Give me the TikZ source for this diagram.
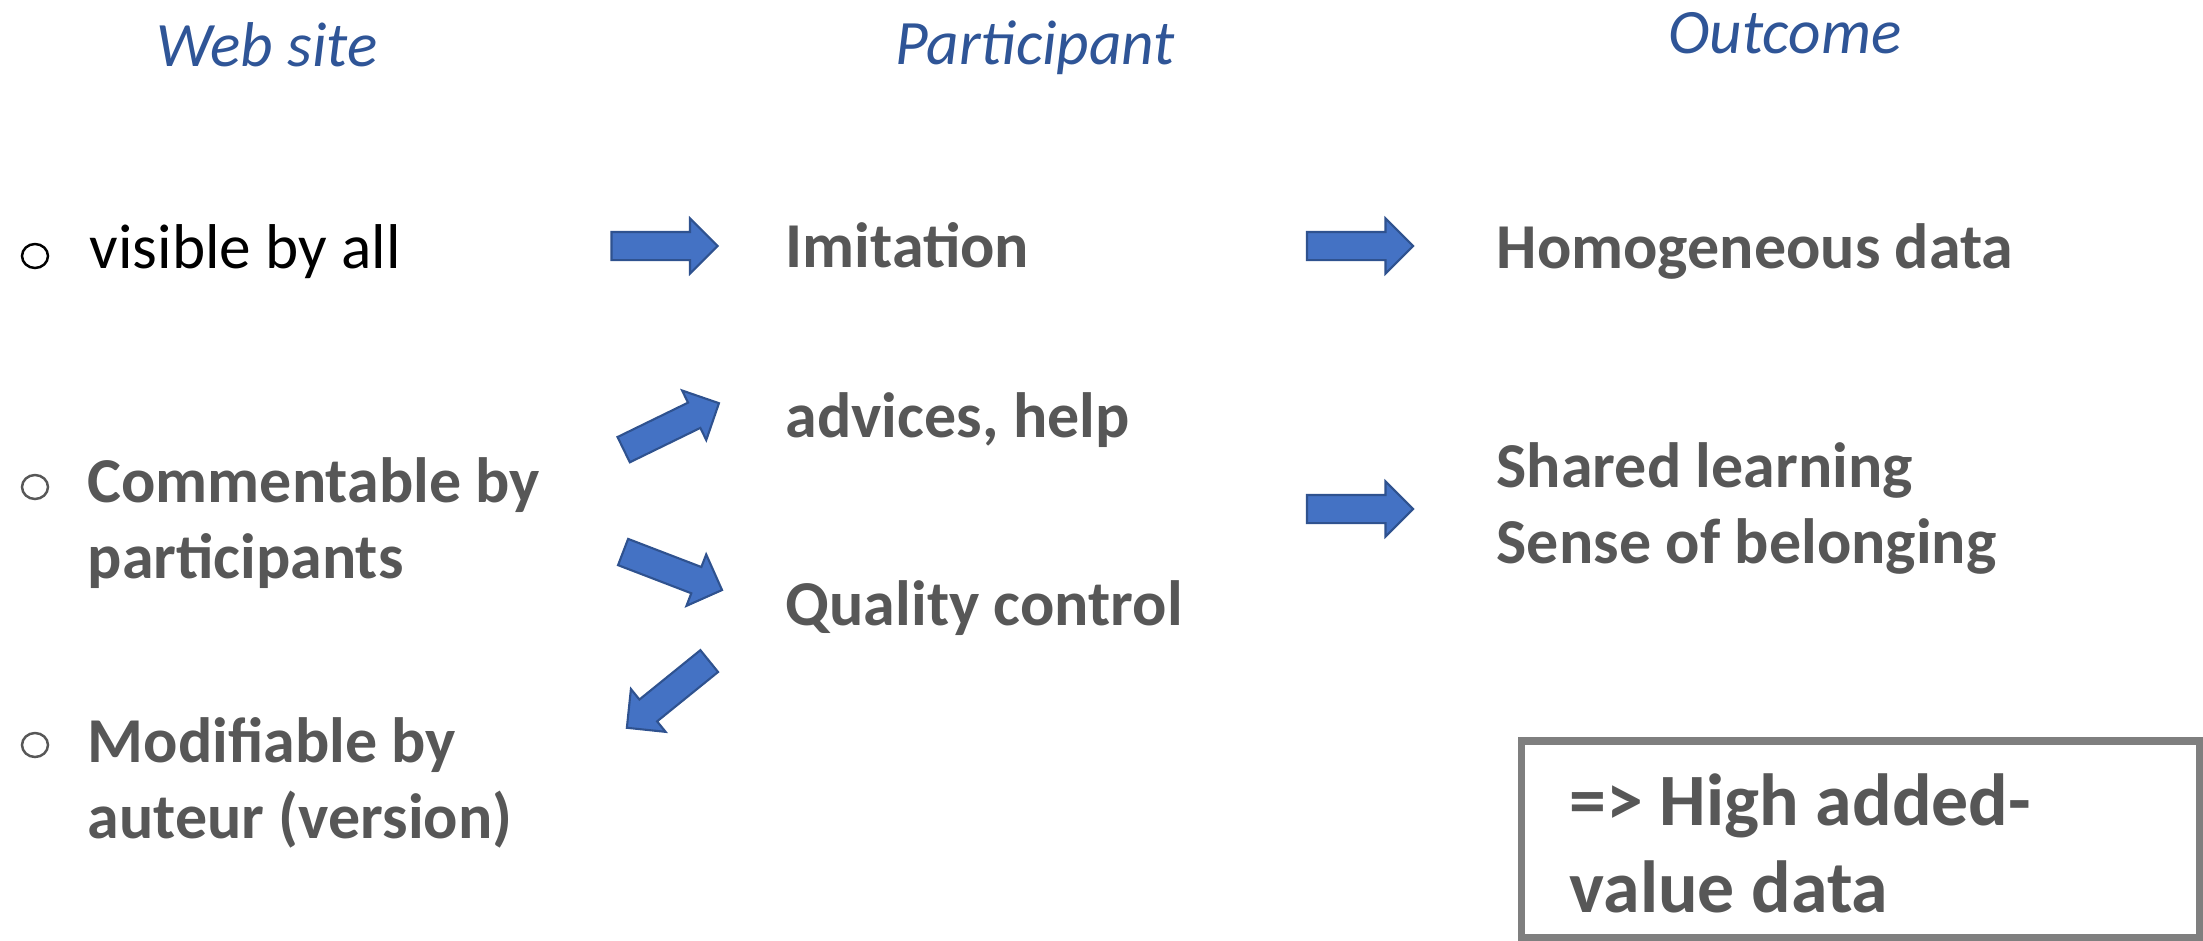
\documentclass[tikz,border=0pt]{standalone}
\usepackage{fontspec}
\setmainfont{Carlito}
\usepackage{xcolor}
\usepackage{tikz}
\usetikzlibrary{shapes}
\usetikzlibrary{shapes.arrows}
\usetikzlibrary{shapes.geometric}
\definecolor{headblue}{HTML}{2F5597}
\definecolor{txtgray}{HTML}{575757}
\definecolor{arrblue}{HTML}{4472C4}
\definecolor{arrline}{HTML}{2F528F}
\definecolor{boxgray}{HTML}{7F7F7F}
\tikzstyle{head} = [anchor=base, inner sep=0pt, text=headblue, font=\fontsize{18}{21}\selectfont\itshape]
\tikzstyle{item} = [anchor=base west, inner sep=0pt, align=left, text=txtgray, font=\fontsize{18.2}{21.6}\selectfont\bfseries]
\tikzstyle{bullet} = [ellipse, draw=txtgray, line width=0.7pt, minimum width=0.26cm, minimum height=0.24cm, inner sep=0pt]
\tikzstyle{blk} = [single arrow, draw=arrline, fill=arrblue, line width=0.6pt, inner sep=0.13cm, minimum height=1.06cm, single arrow head extend=0.135cm]

\begin{document}
\begin{tikzpicture}
\useasboundingbox (0, 0) rectangle (22.03, 9.40);
% column heads
\node [head] (H1) at (2.67, 8.74) {Web site};
\node [head] (H2) at (10.35, 8.75) {Participant};
\node [head] (H3) at (17.85, 8.87) {Outcome};
% web site
\node [bullet, draw=black] (B1) at (0.35, 6.84) {};
\node [bullet] (B2) at (0.35, 4.53) {};
\node [bullet] (B3) at (0.35, 1.95) {};
\node [item, text=black, font=\fontsize{18}{21.6}\selectfont] (S1) at (0.89, 6.72) {visible by all};
\node [item] (S2) at (0.87, 3.62) {Commentable by\\participants};
\node [item] (S3) at (0.87, 1.02) {Modifiable by\\auteur (version)};
% participant
\node [item] (P1) at (7.85, 6.73) {Imitation};
\node [item] (P2) at (7.85, 5.03) {advices, help};
\node [item] (P3) at (7.85, 3.15) {Quality control};
% outcome
\node [item] (O1) at (14.96, 6.72) {Homogeneous data};
\node [item] (O2) at (14.96, 3.77) {Shared learning\\Sense of belonging};
% block arrows
\node [blk] (A1) at (6.575, 6.94) {};
\node [blk] (A2) at (13.53, 6.94) {};
\node [blk] (A3) at (13.53, 4.31) {};
\node [blk, rotate=26] (A4) at (6.65, 5.105) {};
\node [blk, rotate=-21] (A5) at (6.66, 3.715) {};
\node [blk, rotate=219] (A6) at (6.735, 2.50) {};
% result
\node [draw=boxgray, line width=2pt, minimum width=6.78cm, minimum height=1.96cm, inner sep=0pt] (R) at (18.60, 1.01) {};
\node [item, font=\fontsize{21}{24.7}\selectfont\bfseries] (V) at (15.69, 0.28) {=> High added-\\value data};
\end{tikzpicture}
\end{document}
